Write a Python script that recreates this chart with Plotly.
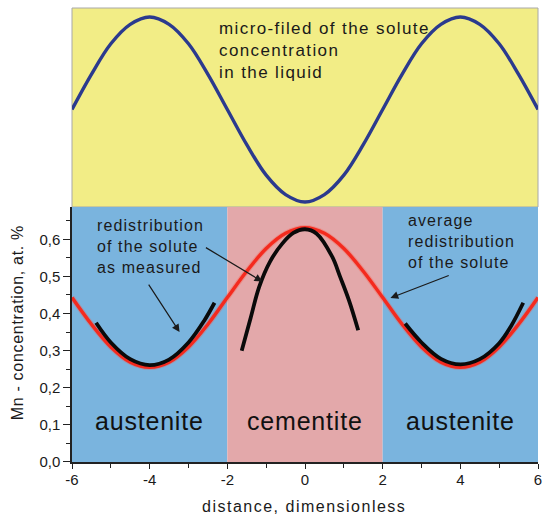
import plotly.graph_objects as go

# ---------------- data ----------------
# average redistribution of the solute (red curve), Mn at.%
avg_x = [-6, -5.5, -5, -4.5, -4, -3.5, -3, -2.5, -2, -1.5, -1, -0.5, 0,
         0.5, 1, 1.5, 2, 2.5, 3, 3.5, 4, 4.5, 5, 5.5, 6]
avg_y = [0.443, 0.371, 0.310, 0.269, 0.255, 0.269, 0.310, 0.371, 0.443, 0.514, 0.575, 0.616, 0.631,
         0.616, 0.575, 0.514, 0.443, 0.371, 0.310, 0.269, 0.255, 0.269, 0.310, 0.371, 0.443]

# micro-field of the solute concentration in the liquid (blue curve), relative units
liquid_x = avg_x
liquid_y = [0.0, 0.38, 0.71, 0.92, 1.0, 0.92, 0.71, 0.38, 0.0, -0.38, -0.71, -0.92, -1.0,
            -0.92, -0.71, -0.38, 0.0, 0.38, 0.71, 0.92, 1.0, 0.92, 0.71, 0.38, 0.0]

# redistribution of the solute as measured (black curves)
meas_left_x = [-5.38, -5.0, -4.5, -4.0, -3.5, -3.0, -2.6, -2.33]
meas_left_y = [0.375, 0.322, 0.277, 0.261, 0.276, 0.322, 0.380, 0.429]
meas_mid_x = [-1.63, -1.4, -1.18, -0.9, -0.58, -0.3, 0.0, 0.3, 0.7, 0.9, 1.13, 1.37]
meas_mid_y = [0.300, 0.388, 0.472, 0.540, 0.589, 0.617, 0.627, 0.615, 0.553, 0.500, 0.436, 0.355]
meas_right_x = [2.58, 3.0, 3.5, 4.0, 4.5, 5.0, 5.3, 5.62]
meas_right_y = [0.373, 0.322, 0.278, 0.263, 0.277, 0.320, 0.365, 0.429]

phase_edges = [-6, -2, 2, 6]
phase_names = ["austenite", "cementite", "austenite"]

x_tick_vals = [-6, -4, -2, 0, 2, 4, 6]
x_tick_text = ["-6", "-4", "-2", "0", "2", "4", "6"]
x_minor_vals = [-5, -3, -1, 1, 3, 5]
y_tick_vals = [0.0, 0.1, 0.2, 0.3, 0.4, 0.5, 0.6]
y_tick_text = ["0,0", "0,1", "0,2", "0,3", "0,4", "0,5", "0,6"]
y_minor_vals = [0.05, 0.15, 0.25, 0.35, 0.45, 0.55, 0.65]

# ---------------- style ----------------
FONT = "Liberation Sans, Arial, sans-serif"
YELLOW = "#F2ED86"
BLUE_BG = "#7AB4DE"
PINK_BG = "#E3A8AA"
phase_colors = [BLUE_BG, PINK_BG, BLUE_BG]


def sp(text, px):
    return f'<span style="letter-spacing:{px}px">{text}</span>'


def lines(parts, px):
    return "<br>".join(sp(p, px) for p in parts)


fig = go.Figure()

# liquid micro-field (upper panel)
fig.add_trace(go.Scatter(x=liquid_x, y=liquid_y, xaxis="x2", yaxis="y2", mode="lines",
                         line=dict(color="#2B3A8E", width=3.4, shape="spline"),
                         showlegend=False, hoverinfo="skip"))

# average redistribution (red) with faint halo
fig.add_trace(go.Scatter(x=avg_x, y=avg_y, mode="lines",
                         line=dict(color="rgba(255,80,60,0.3)", width=5.5, shape="spline"),
                         showlegend=False, hoverinfo="skip"))
fig.add_trace(go.Scatter(x=avg_x, y=avg_y, mode="lines",
                         line=dict(color="#F42A1E", width=3.4, shape="spline"),
                         showlegend=False, hoverinfo="skip"))

# measured (black)
for mx, my in [(meas_left_x, meas_left_y), (meas_mid_x, meas_mid_y), (meas_right_x, meas_right_y)]:
    fig.add_trace(go.Scatter(x=mx, y=my, mode="lines",
                             line=dict(color="#0A0A0A", width=3.8, shape="spline"),
                             showlegend=False, hoverinfo="skip"))

shapes = [dict(type="rect", xref="x2 domain", yref="y2 domain", x0=0, x1=1, y0=0, y1=1,
               fillcolor=YELLOW, line=dict(color="#A8A8A8", width=1), layer="below")]
for i in range(len(phase_names)):
    shapes.append(dict(type="rect", xref="x", yref="y domain",
                       x0=phase_edges[i], x1=phase_edges[i + 1], y0=0, y1=1,
                       fillcolor=phase_colors[i], line=dict(width=0), layer="below"))

annotations = []
for i, name in enumerate(phase_names):
    annotations.append(dict(x=(phase_edges[i] + phase_edges[i + 1]) / 2, y=0.11, xref="x", yref="y",
                            text=sp(name, 0.8), showarrow=False, xanchor="center", yanchor="middle",
                            font=dict(family=FONT, size=25, color="#111111")))

annotations += [
    dict(x=-2.27, y=0.638, xref="x", yref="y2", xanchor="left", yanchor="middle", align="left",
         text=lines(["micro-filed of the solute", "concentration", "in the liquid"], 1.4),
         showarrow=False, font=dict(family=FONT, size=17, color="#1A1A1A")),
    dict(x=-5.42, y=0.58, xref="x", yref="y", xanchor="left", yanchor="middle", align="left",
         text=lines(["redistribution", "of the solute", "as measured"], 1.1),
         showarrow=False, font=dict(family=FONT, size=16, color="#1A1A1A")),
    dict(x=2.60, y=0.594, xref="x", yref="y", xanchor="left", yanchor="middle", align="left",
         text=lines(["average", "redistribution", "of the solute"], 1.1),
         showarrow=False, font=dict(family=FONT, size=16, color="#1A1A1A")),
]

arrows = [((-4.05, 0.482), (-3.23, 0.35)),
          ((-2.59, 0.58), (-1.10, 0.486)),
          ((3.74, 0.504), (2.20, 0.442))]
for (tx, ty), (hx, hy) in arrows:
    annotations.append(dict(x=hx, y=hy, ax=tx, ay=ty, xref="x", yref="y", axref="x", ayref="y",
                            text="", showarrow=True, arrowhead=2, arrowsize=1.3, arrowwidth=1.2,
                            arrowcolor="#1A1A1A", standoff=0, startstandoff=0))

# axis titles
annotations.append(dict(x=-0.1175, y=0.306, xref="paper", yref="paper", textangle=-90,
                        text=sp("Mn - concentration, at. %", 0.7), showarrow=False,
                        xanchor="center", yanchor="middle",
                        font=dict(family=FONT, size=16, color="#1A1A1A")))
annotations.append(dict(x=0.498, y=-0.097, xref="paper", yref="paper",
                        text=sp("distance, dimensionless", 1.5), showarrow=False,
                        xanchor="center", yanchor="middle",
                        font=dict(family=FONT, size=16, color="#1A1A1A")))

split = 0.5617

fig.update_layout(
    width=543, height=516,
    margin=dict(l=72, r=5, t=8, b=54, autoexpand=False),
    paper_bgcolor="white", plot_bgcolor="white",
    showlegend=False,
    font=dict(family=FONT, size=14, color="#1A1A1A"),
    xaxis=dict(domain=[0, 1], range=[-6, 6], anchor="y", automargin=False,
               tickmode="array", tickvals=x_tick_vals, ticktext=x_tick_text,
               ticks="outside", ticklen=5, tickwidth=1.3, tickcolor="#222222",
               ticklabelstandoff=-2,
               minor=dict(tickmode="array", tickvals=x_minor_vals, ticks="outside",
                          ticklen=4, tickwidth=1.3, tickcolor="#222222"),
               showline=True, linecolor="#222222", linewidth=1.5,
               showgrid=False, zeroline=False,
               tickfont=dict(family=FONT, size=15, color="#1A1A1A")),
    yaxis=dict(domain=[0, split], range=[0, 0.687], anchor="x", automargin=False,
               tickmode="array", tickvals=y_tick_vals, ticktext=y_tick_text,
               ticks="outside", ticklen=7, tickwidth=1.3, tickcolor="#222222",
               minor=dict(tickmode="array", tickvals=y_minor_vals, ticks="outside",
                          ticklen=4, tickwidth=1.3, tickcolor="#222222"),
               showline=True, linecolor="#222222", linewidth=1.5,
               showgrid=False, zeroline=False,
               tickfont=dict(family=FONT, size=15, color="#1A1A1A")),
    xaxis2=dict(domain=[0, 1], range=[-6, 6], anchor="y2", matches="x",
                visible=False, showgrid=False, zeroline=False),
    yaxis2=dict(domain=[split, 1], range=[-1.054, 1.097], anchor="x2",
                visible=False, showgrid=False, zeroline=False),
    shapes=shapes,
    annotations=annotations,
)

# remove the default page margin so the figure fills the 543x516 window exactly
fig.write_html("out.html",
               config={"displayModeBar": False},
               post_script="document.body.style.margin='0';document.body.style.overflow='hidden';")
